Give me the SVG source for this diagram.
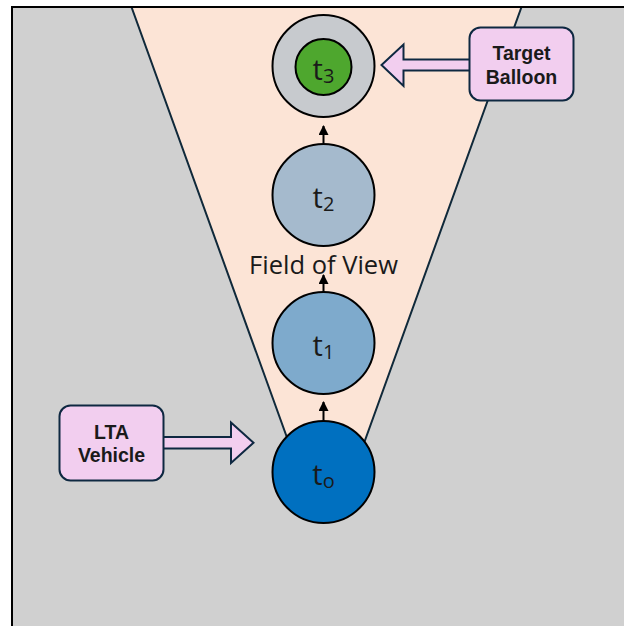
<svg xmlns="http://www.w3.org/2000/svg" width="624" height="626" viewBox="0 0 624 626">
<defs>
<style>
.node{stroke:#000;stroke-width:2}
.lbl{font-family:"Open Sans","Noto Sans","DejaVu Sans",sans-serif;font-size:29px;fill:#1a1a1a;text-anchor:middle}
.sub{font-size:20px}
.box{fill:#f2ceef;stroke:#0e2841;stroke-width:2}
.btxt{font-family:"Liberation Sans",Arial,sans-serif;font-weight:bold;font-size:19.5px;fill:#1a1a1a;text-anchor:middle}
.step{stroke:#000;stroke-width:2;fill:none;marker-end:url(#ah)}
</style>
<marker id="ah" viewBox="0 0 10 10" refX="9" refY="5" markerWidth="5" markerHeight="5" orient="auto" markerUnits="strokeWidth">
<path d="M0,0 L10,5 L0,10 z" fill="#000"/>
</marker>
</defs>
<rect x="0" y="0" width="624" height="626" fill="#fff"/>
<rect x="12" y="7" width="614" height="621" fill="#d0d0d0"/>
<g id="field-of-view">
<polygon points="131.5,7 521.5,7 361.5,450 291.5,450" fill="#fce4d6" stroke="#10293a" stroke-width="2"/>
<text x="323.5" y="274" font-family="'Open Sans','Noto Sans',sans-serif" font-size="25.5" fill="#1a1a1a" text-anchor="middle">Field of View</text>
</g>
<path d="M12,628 L12,7 L626,7" fill="none" stroke="#000" stroke-width="2"/>
<g id="connectors">
<line class="step" x1="323.5" y1="421" x2="323.5" y2="402"/>
<line class="step" x1="323.5" y1="292" x2="323.5" y2="275"/>
<line class="step" x1="323.5" y1="143" x2="323.5" y2="126"/>
<path d="M164,437 L231,437 L231,422.5 L253.5,442.7 L231,463 L231,448.5 L164,448.5" class="box"/>
<path d="M469,59.5 L403.5,59.5 L403.5,44.5 L381.5,65 L403.5,86 L403.5,70.5 L469,70.5" class="box"/>
</g>
<g id="t0">
<circle cx="323.5" cy="472" r="51" fill="#0070c0" class="node"/>
<text class="lbl" x="323.5" y="485">t<tspan class="sub" dy="3">o</tspan></text>
</g>
<g id="t1">
<circle cx="323.5" cy="343" r="51" fill="#7eaacc" class="node"/>
<text class="lbl" x="323.5" y="356">t<tspan class="sub" dy="3">1</tspan></text>
</g>
<g id="t2">
<circle cx="323.5" cy="195" r="51" fill="#a5bacd" class="node"/>
<text class="lbl" x="323.5" y="208">t<tspan class="sub" dy="3">2</tspan></text>
</g>
<g id="t3">
<circle cx="323.5" cy="66" r="51" fill="#c7cace" class="node"/>
<circle cx="323.5" cy="67" r="28" fill="#4ea72e" class="node"/>
<text class="lbl" x="323.5" y="80">t<tspan class="sub" dy="3">3</tspan></text>
</g>
<g id="lta-vehicle">
<rect x="59.5" y="405.5" width="104" height="75" rx="11" class="box"/>
<text class="btxt" x="111.5" y="438.5">LTA</text>
<text class="btxt" x="111.5" y="461.5">Vehicle</text>
</g>
<g id="target-balloon">
<rect x="469.5" y="27.5" width="104" height="73" rx="11" class="box"/>
<text class="btxt" x="521.5" y="60">Target</text>
<text class="btxt" x="521.5" y="83.5">Balloon</text>
</g>
</svg>
